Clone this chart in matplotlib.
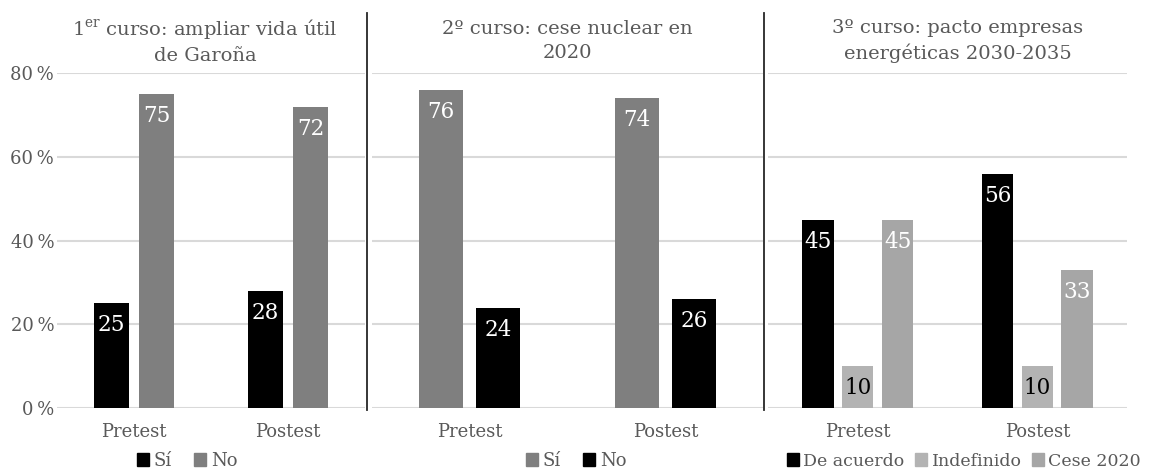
import numpy as np
import matplotlib.pyplot as plt
from matplotlib.patches import Patch
from matplotlib.lines import Line2D

plt.rcParams['font.family'] = ['DejaVu Serif']
plt.rcParams['mathtext.fontset'] = 'custom'
plt.rcParams['mathtext.rm'] = 'DejaVu Serif'

categories = ["Pretest", "Postest"]

# panel 1
t1 = "1$^{\\mathrm{er}}$ curso: ampliar vida útil\nde Garoña"
s1_names = ["Sí", "No"]
s1_vals = [[25, 28], [75, 72]]
s1_cols = ["#000000", "#7f7f7f"]

# panel 2
t2 = "2º curso: cese nuclear en\n2020"
s2_names = ["Sí", "No"]
s2_vals = [[76, 74], [24, 26]]
s2_cols = ["#7f7f7f", "#000000"]

# panel 3
t3 = "3º curso: pacto empresas\nenergéticas 2030-2035"
s3_names = ["De acuerdo", "Indefinido", "Cese 2020"]
s3_vals = [[45, 56], [10, 10], [45, 33]]
s3_cols = ["#000000", "#b3b3b3", "#a6a6a6"]

W, H = 1150, 470
fig = plt.figure(figsize=(W / 100, H / 100), dpi=100)
txt = "#595959"

bot = 1 - 408 / H
hgt = (408 - 73) / H
panels = [
    (57, 308, t1, s1_names, s1_vals, s1_cols, 0.227, [-0.146, 0.146], 205, 187, 13, 1.2),
    (372, 391, t2, s2_names, s2_vals, s2_cols, 0.227, [-0.146, 0.146], 567, 576, 13, 1.2),
    (768, 359, t3, s3_names, s3_vals, s3_cols, 0.175, [-0.222, 0, 0.222], 958, 964, 12.5, 0.6),
]

x = np.arange(len(categories))
for i, (left, width, title, names, vals, cols, bw, offs, tx, lx, lfs, csp) in enumerate(panels):
    ax = fig.add_axes([left / W, bot, width / W, hgt])
    for name, v, c, o in zip(names, vals, cols, offs):
        ax.bar(x + o, v, bw, color=c, zorder=3)
        lc = "black" if c == "#b3b3b3" else "white"
        for xi, vi in zip(x + o, v):
            ax.annotate(str(vi), (xi, vi), xytext=(0, -8), textcoords="offset points",
                        ha="center", va="top", color=lc, fontsize=15.5, zorder=4)
    ax.set_xlim(-0.5, 1.5)
    ax.set_ylim(0, 80)
    ax.set_yticks([0, 20, 40, 60, 80])
    ax.yaxis.grid(True, color="#d9d9d9", lw=1.5)
    ax.set_axisbelow(True)
    for s in ax.spines.values():
        s.set_visible(False)
    ax.set_xticks(x)
    ax.set_xticklabels(categories)
    ax.tick_params(length=0, labelsize=13, colors=txt)
    ax.tick_params(axis="x", pad=11)
    if i == 0:
        ax.set_yticklabels([f"{v}\u2009%" for v in [0, 20, 40, 60, 80]])
        ax.tick_params(axis="y", pad=2)
    else:
        ax.set_yticklabels([])
    fig.text(tx / W, 1 - 41 / H, title, ha="center", va="center", fontsize=14,
             color=txt, linespacing=1.4)
    handles = [Patch(color=c, label=n) for n, c in zip(names, cols)]
    fig.legend(handles=handles, loc="center", bbox_to_anchor=(lx / W, 1 - 461 / H),
               ncol=len(names), frameon=False, fontsize=lfs, labelcolor=txt,
               handlelength=0.7, handleheight=0.7, handletextpad=0.25,
               columnspacing=csp, borderpad=0)

for sx in [367, 764]:
    fig.add_artist(Line2D([sx / W, sx / W], [1 - 13 / H, 1 - 410 / H],
                          transform=fig.transFigure, color="#262626", lw=1.3))

fig.savefig("out.png", dpi=100)
